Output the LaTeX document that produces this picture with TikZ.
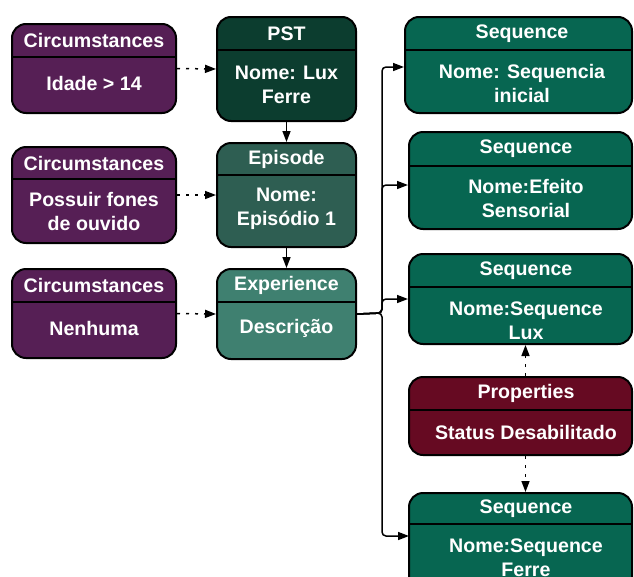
\documentclass[tikz,border=0pt]{standalone}
\usepackage{fontspec}
\setmainfont{Liberation Sans}
\usetikzlibrary{arrows.meta,fit}

\definecolor{circfill}{HTML}{561F55}
\definecolor{pstfill}{HTML}{0C3D2F}
\definecolor{epifill}{HTML}{2E5E52}
\definecolor{expfill}{HTML}{3F8070}
\definecolor{seqfill}{HTML}{076651}
\definecolor{propfill}{HTML}{660A22}

% #1 name, #2 fill, #3 x1, #4 y1, #5 x2, #6 y2, #7 y of divider, #8 title, #9 title x
\newcommand\classbox[9]{%
  \node[box=#2, fit={(#3,#4) (#5,#6)}] (#1) {};
  \draw[line width=2pt] (#3,#7) -- (#5,#7);
  \node[lbl] (#1-title) at ({#9},{(#4+#7)/2}) {#8};
}

\begin{document}
\begin{tikzpicture}[x=1pt,y=-1pt,
  box/.style={draw=black, line width=2pt, rounded corners=14pt, fill=#1, inner sep=0pt},
  lbl/.style={text=white, font=\bfseries\fontsize{19.6}{24}\selectfont, align=center, inner sep=0pt},
  flow/.style={line width=1.5pt, -{Triangle[length=11pt,width=8pt]}},
  dep/.style={flow, dash pattern=on 3pt off 6pt},
]
\useasboundingbox (0,0) rectangle (634,576);

% left column: circumstances
\classbox{c1}{circfill}{12}{24}{176}{113}{57}{Circumstances}{94}
\node[lbl] (c1-body) at (94,83) {Idade > 14};
\classbox{c2}{circfill}{12}{147}{176}{243}{179}{Circumstances}{94}
\node[lbl] (c2-body) at (94,211) {Possuir fones\\de ouvido};
\classbox{c3}{circfill}{12}{269}{176}{358}{302}{Circumstances}{94}
\node[lbl] (c3-body) at (94,328) {Nenhuma};

% middle column: PST, episode, experience
\classbox{pst}{pstfill}{217}{17}{356}{121}{50}{PST}{286.5}
\node[lbl] (pst-body) at (286.5,85) {Nome: Lux\\Ferre};
\classbox{epi}{epifill}{217}{143}{356}{247}{175}{Episode}{286.5}
\node[lbl] (epi-body) at (286.5,209) {Nome:\\Episódio 1};
\classbox{exp}{expfill}{217}{269}{356}{359}{302}{Experience}{286.5}
\node[lbl] (exp-body) at (286.5,328) {Descrição};

% right column: sequences and properties
\classbox{s1}{seqfill}{405}{17}{632}{113}{50}{Sequence}{522}
\node[lbl] (s1-body) at (522,83) {Nome: Sequencia\\inicial};
\classbox{s2}{seqfill}{409}{132}{632}{229}{166}{Sequence}{526}
\node[lbl] (s2-body) at (526,198) {Nome:Efeito\\Sensorial};
\classbox{s3}{seqfill}{409}{254}{632}{344}{287}{Sequence}{526}
\node[lbl] (s3-body) at (526,321) {Nome:Sequence\\Lux};
\classbox{prop}{propfill}{409}{377}{632}{455}{410}{Properties}{526}
\node[lbl] (prop-body) at (526,432) {Status Desabilitado};
\classbox{s4}{seqfill}{409}{493}{632}{600}{524}{Sequence}{526}
\node[lbl] (s4-body) at (526,558) {Nome:Sequence\\Ferre};

% dependencies from circumstances
\draw[dep] (c1.east) -- (pst.west);
\draw[dep] (c2.east) -- (epi.west);
\draw[dep] (c3.east) -- (exp.west);

% hierarchy
\draw[flow] (pst.south) -- (epi.north);
\draw[flow] (epi.south) -- (exp.north);

% experience to its sequences through a shared bus
\coordinate (bus) at (382,313);
\draw[flow, rounded corners=4pt] (exp.east) -- (bus) |- ([yshift=-2pt]s1.west);
\draw[flow, rounded corners=4pt] (exp.east) -- (bus) |- ([yshift=-4.5pt]s2.west);
\draw[flow, rounded corners=4pt] (exp.east) -- (bus) |- (s3.west);
\draw[flow, rounded corners=4pt] (exp.east) -- (bus) |- (409,536);

% properties attached to two sequences
\draw[dep] ([xshift=5pt]prop.north) -- ([xshift=5pt]s3.south);
\draw[dep] ([xshift=5pt]prop.south) -- ([xshift=5pt]s4.north);
\end{tikzpicture}
\end{document}
